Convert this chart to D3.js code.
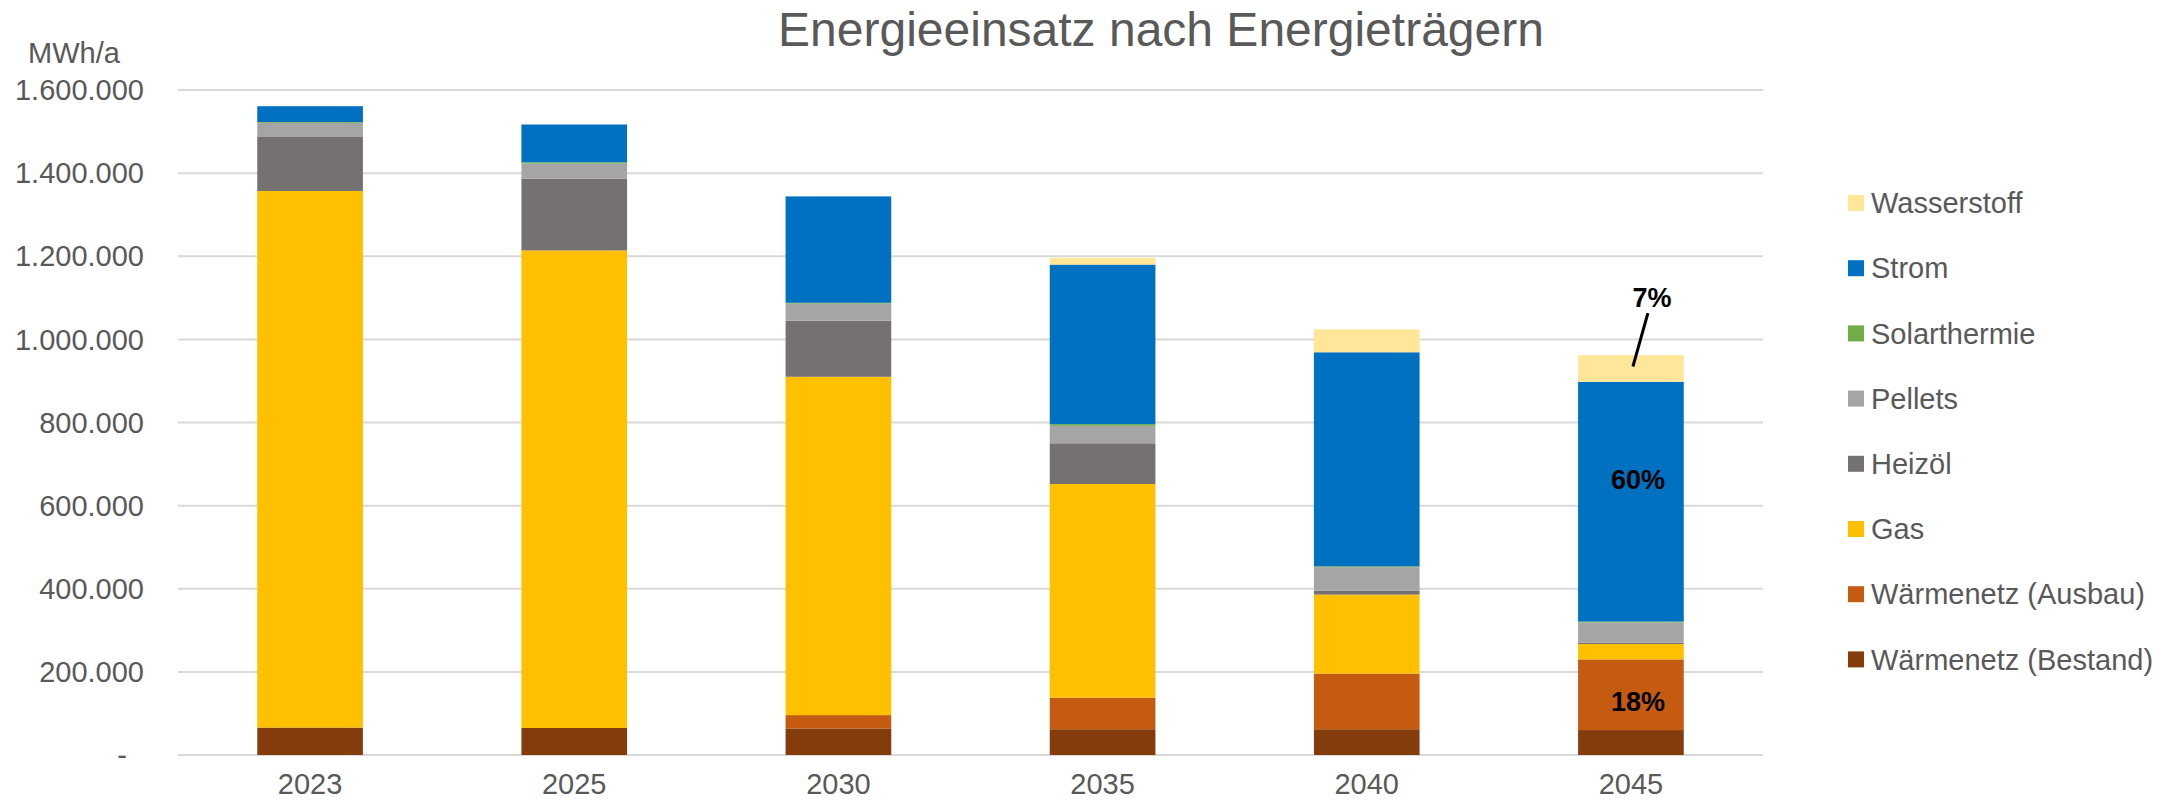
<!DOCTYPE html>
<html>
<head>
<meta charset="utf-8">
<script src="https://cdn.jsdelivr.net/npm/d3@7"></script>
<style>
  body { margin: 0; background: #fff; }
  text { font-family: "Liberation Sans", Arial, sans-serif; }
</style>
</head>
<body>
<svg id="chart"></svg>
<script>
// categories and series (MWh/a)
const years = ["2023", "2025", "2030", "2035", "2040", "2045"];
const waermenetzBestand = [66000, 65000, 64000, 62000, 62000, 60000];
const waermenetzAusbau = [0, 0, 32000, 76000, 134000, 170000];
const gas = [1291000, 1149000, 814000, 514000, 190000, 37000];
const heizoel = [130000, 173000, 135000, 98000, 9000, 3000];
const pellets = [34000, 36000, 41000, 42000, 57000, 49000];
const solarthermie = [2000, 3000, 2000, 4000, 2000, 2000];
const strom = [38000, 91000, 256000, 384000, 515000, 577000];
const wasserstoff = [0, 0, 0, 16000, 55000, 64000];
const yTicks = [0, 200000, 400000, 600000, 800000, 1000000, 1200000, 1400000, 1600000];

const seriesNames = ["Wärmenetz (Bestand)", "Wärmenetz (Ausbau)", "Gas", "Heizöl", "Pellets", "Solarthermie", "Strom", "Wasserstoff"];
const seriesValues = [waermenetzBestand, waermenetzAusbau, gas, heizoel, pellets, solarthermie, strom, wasserstoff];
const colors = ["#843C0C", "#C55A11", "#FFC000", "#767171", "#A5A5A5", "#70AD47", "#0070C0", "#FFE699"];

// labelled shares in the last column
const labelYear = "2045";
const labelSeries = ["Strom", "Wärmenetz (Ausbau)", "Wasserstoff"];

const W = 2177, H = 802;
const margin = { top: 90, right: 414, bottom: 47, left: 178 };

const svg = d3.select("#chart").attr("width", W).attr("height", H);

const rows = years.map((y, i) => {
    const r = { year: y };
    seriesNames.forEach((s, j) => r[s] = seriesValues[j][i]);
    return r;
});

const stacked = d3.stack().keys(seriesNames)(rows);

const x = d3.scaleBand()
    .domain(years)
    .range([margin.left, W - margin.right])
    .paddingInner(0.6)
    .paddingOuter(0.3);

const y = d3.scaleLinear()
    .domain([0, 1600000])
    .range([H - margin.bottom, margin.top]);

const color = d3.scaleOrdinal().domain(seriesNames).range(colors);

const de = d3.formatLocale({ decimal: ",", thousands: ".", grouping: [3], currency: ["", " €"] });
const fmt = de.format(",.0f");

// gridlines
svg.append("g")
    .selectAll("line")
    .data(yTicks)
    .enter().append("line")
    .attr("x1", margin.left)
    .attr("x2", W - margin.right)
    .attr("y1", d => y(d))
    .attr("y2", d => y(d))
    .attr("stroke", "#D9D9D9")
    .attr("stroke-width", 2);

// y axis labels
svg.append("g")
    .selectAll("text")
    .data(yTicks)
    .enter().append("text")
    .attr("x", d => d === 0 ? margin.left - 51 : margin.left - 34)
    .attr("y", d => y(d))
    .attr("dy", "0.35em")
    .attr("text-anchor", "end")
    .attr("fill", "#595959")
    .style("font-size", "29px")
    .text(d => d === 0 ? "-" : fmt(d));

svg.append("text")
    .attr("x", 28)
    .attr("y", 63)
    .attr("fill", "#595959")
    .style("font-size", "29px")
    .text("MWh/a");

// bars
const layers = svg.append("g")
    .selectAll("g")
    .data(stacked)
    .enter().append("g")
    .attr("fill", d => color(d.key));

layers.selectAll("rect")
    .data(d => d)
    .enter().append("rect")
    .attr("x", d => x(d.data.year))
    .attr("width", x.bandwidth())
    .attr("y", d => y(d[1]))
    .attr("height", d => y(d[0]) - y(d[1]));

// x axis labels
svg.append("g")
    .selectAll("text")
    .data(years)
    .enter().append("text")
    .attr("x", d => x(d) + x.bandwidth() / 2)
    .attr("y", 794)
    .attr("text-anchor", "middle")
    .attr("fill", "#595959")
    .style("font-size", "29px")
    .text(d => d);

// title
svg.append("text")
    .attr("x", 1161)
    .attr("y", 46)
    .attr("text-anchor", "middle")
    .attr("fill", "#595959")
    .style("font-size", "48px")
    .text("Energieeinsatz nach Energieträgern");

// share labels on 2045
const li = years.indexOf(labelYear);
const total = d3.sum(seriesValues, v => v[li]);
const pct = d3.format(".0%");
const cx = x(labelYear) + x.bandwidth() / 2;

labelSeries.forEach(name => {
    const layer = stacked.find(s => s.key === name);
    const seg = layer[li];
    const mid = (y(seg[0]) + y(seg[1])) / 2;
    const txt = pct(seg.data[name] / total);
    if (name === "Wasserstoff") {
        svg.append("line")
            .attr("x1", cx + 2)
            .attr("y1", mid - 2)
            .attr("x2", cx + 17)
            .attr("y2", y(seg[1]) - 42)
            .attr("stroke", "#000")
            .attr("stroke-width", 3);
        svg.append("text")
            .attr("x", cx + 21)
            .attr("y", y(seg[1]) - 48)
            .attr("text-anchor", "middle")
            .style("font-size", "27px")
            .style("font-weight", "bold")
            .attr("fill", "#000")
            .text(txt);
    } else {
        svg.append("text")
            .attr("x", cx + 7)
            .attr("y", name === "Strom" ? mid - 22 : mid + 7)
            .attr("dy", "0.35em")
            .attr("text-anchor", "middle")
            .style("font-size", "27px")
            .style("font-weight", "bold")
            .attr("fill", "#000")
            .text(txt);
    }
});

// legend, top to bottom in reverse stack order
const legend = svg.append("g")
    .attr("transform", "translate(1848, 203)");

const legendRows = legend.selectAll("g")
    .data(seriesNames.slice().reverse())
    .enter().append("g")
    .attr("transform", (d, i) => `translate(0, ${i * 65.2})`);

legendRows.append("rect")
    .attr("x", 0)
    .attr("y", -8)
    .attr("width", 16)
    .attr("height", 16)
    .attr("fill", d => color(d));

legendRows.append("text")
    .attr("x", 23)
    .attr("y", 0)
    .attr("dy", "0.35em")
    .attr("fill", "#595959")
    .style("font-size", "29px")
    .text(d => d);
</script>
</body>
</html>
